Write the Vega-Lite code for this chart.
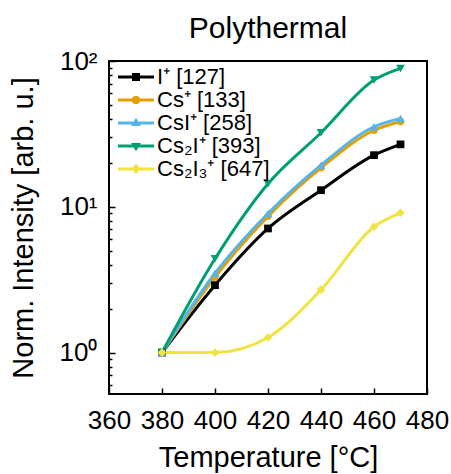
{
  "$schema": "https://vega.github.io/schema/vega-lite/v6.json",
  "width": 318,
  "height": 333,
  "autosize": {"type": "none"},
  "padding": {"left": 109, "top": 61, "right": 24, "bottom": 80},
  "title": {
    "text": "Polythermal",
    "fontSize": 30,
    "fontWeight": "normal",
    "color": "black",
    "anchor": "middle",
    "offset": 4
  },
  "data": {
    "values": [
      {"ion": "I⁺ [127]", "T": 380, "I": 1},
      {"ion": "I⁺ [127]", "T": 400, "I": 2.9},
      {"ion": "I⁺ [127]", "T": 420, "I": 7.1},
      {"ion": "I⁺ [127]", "T": 440, "I": 13.0},
      {"ion": "I⁺ [127]", "T": 460, "I": 22.6},
      {"ion": "I⁺ [127]", "T": 470, "I": 26.8},
      {"ion": "Cs⁺ [133]", "T": 380, "I": 1},
      {"ion": "Cs⁺ [133]", "T": 400, "I": 3.3},
      {"ion": "Cs⁺ [133]", "T": 420, "I": 8.6},
      {"ion": "Cs⁺ [133]", "T": 440, "I": 18.5},
      {"ion": "Cs⁺ [133]", "T": 460, "I": 33.5},
      {"ion": "Cs⁺ [133]", "T": 470, "I": 38.5},
      {"ion": "CsI⁺ [258]", "T": 380, "I": 1},
      {"ion": "CsI⁺ [258]", "T": 400, "I": 3.5},
      {"ion": "CsI⁺ [258]", "T": 420, "I": 9.0},
      {"ion": "CsI⁺ [258]", "T": 440, "I": 19.3},
      {"ion": "CsI⁺ [258]", "T": 460, "I": 35.4},
      {"ion": "CsI⁺ [258]", "T": 470, "I": 40.4},
      {"ion": "Cs₂I⁺ [393]", "T": 380, "I": 1},
      {"ion": "Cs₂I⁺ [393]", "T": 400, "I": 4.4},
      {"ion": "Cs₂I⁺ [393]", "T": 420, "I": 14.4},
      {"ion": "Cs₂I⁺ [393]", "T": 440, "I": 32.2},
      {"ion": "Cs₂I⁺ [393]", "T": 460, "I": 74},
      {"ion": "Cs₂I⁺ [393]", "T": 470, "I": 89},
      {"ion": "Cs₂I₃⁺ [647]", "T": 380, "I": 1},
      {"ion": "Cs₂I₃⁺ [647]", "T": 400, "I": 1.0},
      {"ion": "Cs₂I₃⁺ [647]", "T": 420, "I": 1.27},
      {"ion": "Cs₂I₃⁺ [647]", "T": 440, "I": 2.7},
      {"ion": "Cs₂I₃⁺ [647]", "T": 460, "I": 7.3},
      {"ion": "Cs₂I₃⁺ [647]", "T": 470, "I": 9.1}
    ]
  },
  "encoding": {
    "x": {
      "field": "T",
      "type": "quantitative",
      "scale": {"domain": [360, 480], "nice": false},
      "axis": {
        "title": "Temperature [°C]",
        "values": [360, 380, 400, 420, 440, 460, 480],
        "tickSize": -6,
        "labelPadding": 19,
        "titlePadding": 10,
        "labelFlush": false
      }
    },
    "y": {
      "field": "I",
      "type": "quantitative",
      "scale": {"type": "log", "domain": [0.52, 100], "nice": false},
      "axis": {
        "title": "Norm. Intensity [arb. u.]",
        "values": [0.6, 0.7, 0.8, 0.9, 1, 2, 3, 4, 5, 6, 7, 8, 9, 10, 20, 30, 40, 50, 60, 70, 80, 90, 100],
        "labelExpr": "datum.value == 1 ? '10⁰' : datum.value == 10 ? '10¹' : datum.value == 100 ? '10²' : ''",
        "labelOverlap": false,
        "labelFlush": false,
        "tickSize": {
          "condition": {"test": "datum.value == 1 || datum.value == 10 || datum.value == 100", "value": -6},
          "value": -3
        },
        "labelPadding": 18,
        "titlePadding": 21
      }
    },
    "color": {
      "field": "ion",
      "type": "nominal",
      "scale": {
        "domain": ["I⁺ [127]", "Cs⁺ [133]", "CsI⁺ [258]", "Cs₂I⁺ [393]", "Cs₂I₃⁺ [647]"],
        "range": ["#000000", "#E69F00", "#56B4E9", "#009E73", "#F0E442"]
      },
      "legend": {
        "title": null,
        "orient": "none",
        "legendX": 3,
        "legendY": 5,
        "padding": 0,
        "labelFontSize": 22,
        "labelColor": "black",
        "labelOffset": 23,
        "rowPadding": 1,
        "symbolSize": 100,
        "encode": {
          "symbols": {
            "update": {
              "shape": {
                "signal": "datum.value === 'I⁺ [127]' ? 'M-1,-0.3H6.2V0.3H-1Z M1.8,-0.8H3.4V0.8H1.8Z' : datum.value === 'Cs⁺ [133]' ? 'M-1,-0.3H6.2V0.3H-1Z M3.45,0A0.85,0.85 0 1,1 1.75,0A0.85,0.85 0 1,1 3.45,0Z' : datum.value === 'CsI⁺ [258]' ? 'M-1,-0.3H6.2V0.3H-1Z M2.6,-1.05L3.6,0.6H1.6Z' : datum.value === 'Cs₂I⁺ [393]' ? 'M-1,-0.3H6.2V0.3H-1Z M2.6,1.05L1.6,-0.6H3.6Z' : 'M-1,-0.3H6.2V0.3H-1Z M2.6,-1.05L3.5,0L2.6,1.05L1.7,0Z'"
              },
              "fill": {"signal": "scale('color', datum.value)"},
              "stroke": {"value": "transparent"},
              "strokeWidth": {"value": 0},
              "opacity": {"value": 1}
            }
          }
        }
      }
    }
  },
  "layer": [
    {
      "mark": {"type": "line", "interpolate": "monotone", "strokeWidth": 3}
    },
    {
      "transform": [{"filter": "datum.ion === 'I⁺ [127]'"}],
      "mark": {"type": "point", "shape": "square", "filled": true, "opacity": 1, "size": 60}
    },
    {
      "transform": [{"filter": "datum.ion === 'Cs⁺ [133]'"}],
      "mark": {"type": "point", "shape": "circle", "filled": true, "opacity": 1, "size": 55}
    },
    {
      "transform": [{"filter": "datum.ion === 'CsI⁺ [258]'"}],
      "mark": {"type": "point", "shape": "triangle-up", "filled": true, "opacity": 1, "size": 75}
    },
    {
      "transform": [{"filter": "datum.ion === 'Cs₂I⁺ [393]'"}],
      "mark": {"type": "point", "shape": "triangle-down", "filled": true, "opacity": 1, "size": 75}
    },
    {
      "transform": [{"filter": "datum.ion === 'Cs₂I₃⁺ [647]'"}],
      "mark": {"type": "point", "shape": "diamond", "filled": true, "opacity": 1, "size": 75}
    }
  ],
  "config": {
    "font": "Liberation Sans",
    "view": {"stroke": "black", "strokeWidth": 2},
    "axis": {
      "grid": false,
      "domain": false,
      "labelFontSize": 26,
      "titleFontSize": 29,
      "titleFontWeight": "normal",
      "labelColor": "black",
      "titleColor": "black",
      "tickColor": "black",
      "tickWidth": 1.5
    }
  }
}
